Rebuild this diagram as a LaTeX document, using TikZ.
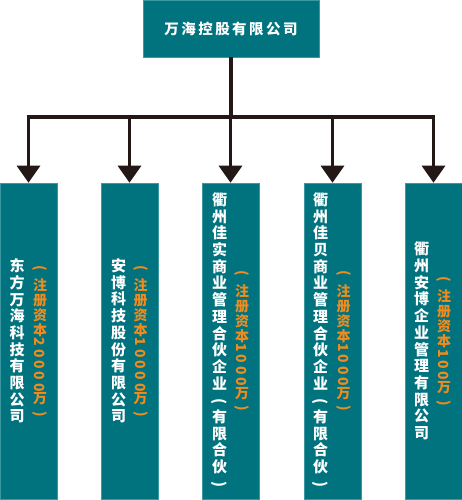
\documentclass[tikz,border=0pt]{standalone}
\usepackage{fontspec}
\usepackage{graphicx}
\usepackage{xcolor}
\usetikzlibrary{arrows.meta}
\newfontfamily\cjk{Noto Sans CJK SC}
\newfontfamily\cjkwide{Noto Sans CJK SC}[LetterSpace=17]
\definecolor{whteal}{HTML}{00737F}
\definecolor{whedge}{HTML}{3C98A2}
\definecolor{whorange}{HTML}{F08C1E}
\definecolor{whline}{HTML}{231815}
\newcommand{\numrot}[1]{\rotatebox[origin=c]{-90}{\addfontfeature{LetterSpace=20}#1}}
\newcommand{\parrot}[1]{\rotatebox[origin=c]{-90}{#1}}

\begin{document}
\begin{tikzpicture}[x=1pt, y=-1pt,
    box/.style={draw=whedge, line width=0.6pt, fill=whteal, inner sep=0pt},
    subbox/.style={box, minimum width=57pt, minimum height=316pt},
    namecol/.style={text=white, font=\cjk\bfseries\fontsize{15}{16.7}\selectfont, align=center, inner sep=0pt},
    capcol/.style={text=whorange, font=\cjk\bfseries\fontsize{14}{15}\selectfont, align=center, inner sep=0pt},
    link/.style={draw=whline, line width=3.3pt},
    arr/.style={link, -{Triangle[width=23pt,length=17pt]}}]
  \useasboundingbox (0,0) rectangle (462,500);
  % holding company
  \node[box, minimum width=176pt, minimum height=57pt, text=white, font=\cjkwide\bfseries\fontsize{14.5}{17}\selectfont] (top) at (231,28.5) {万海控股有限公司};
  \coordinate (hub) at (231,117);
  % subsidiaries
  \node[subbox] (b1) at (28.5,341) {};
  \node[subbox] (b2) at (129.5,341) {};
  \node[subbox] (b3) at (230.5,341) {};
  \node[subbox] (b4) at (332.5,341) {};
  \node[subbox] (b5) at (433.5,341) {};
  % connectors
  \draw[link] (top.south) -- (hub);
  \draw[arr] (hub) -| (b1.north);
  \draw[arr] (hub) -| (b2.north);
  \draw[arr] (hub) -| (b3.north);
  \draw[arr] (hub) -| (b4.north);
  \draw[arr] (hub) -| (b5.north);
  % names
  \node[namecol] (n1) at (17,341) {东\\方\\万\\海\\科\\技\\有\\限\\公\\司};
  \node[namecol] (n2) at (118.5,341) {安\\博\\科\\技\\股\\份\\有\\限\\公\\司};
  \node[namecol] (n3) at (219.5,341) {衢\\州\\佳\\实\\商\\业\\管\\理\\合\\伙\\企\\业\\\parrot{(}\\有\\限\\合\\伙\\\parrot{)}};
  \node[namecol] (n4) at (320.5,341) {衢\\州\\佳\\贝\\商\\业\\管\\理\\合\\伙\\企\\业\\\parrot{(}\\有\\限\\合\\伙\\\parrot{)}};
  \node[namecol] (n5) at (421.5,341) {衢\\州\\安\\博\\企\\业\\管\\理\\有\\限\\公\\司};
  % capital
  \node[capcol] (c1) at (40,342) {\parrot{(}\\[3pt]注\\册\\资\\本\\\numrot{20000}\\万\\\parrot{)}};
  \node[capcol] (c2) at (140.5,342) {\parrot{(}\\[3pt]注\\册\\资\\本\\\numrot{10000}\\万\\\parrot{)}};
  \node[capcol] (c3) at (242,342) {\parrot{(}\\[3pt]注\\册\\资\\本\\\numrot{1000}\\万\\\parrot{)}};
  \node[capcol] (c4) at (343.5,342) {\parrot{(}\\[3pt]注\\册\\资\\本\\\numrot{1000}\\万\\\parrot{)}};
  \node[capcol] (c5) at (444,342) {\parrot{(}\\[3pt]注\\册\\资\\本\\\numrot{100}\\万\\\parrot{)}};
\end{tikzpicture}
\end{document}
